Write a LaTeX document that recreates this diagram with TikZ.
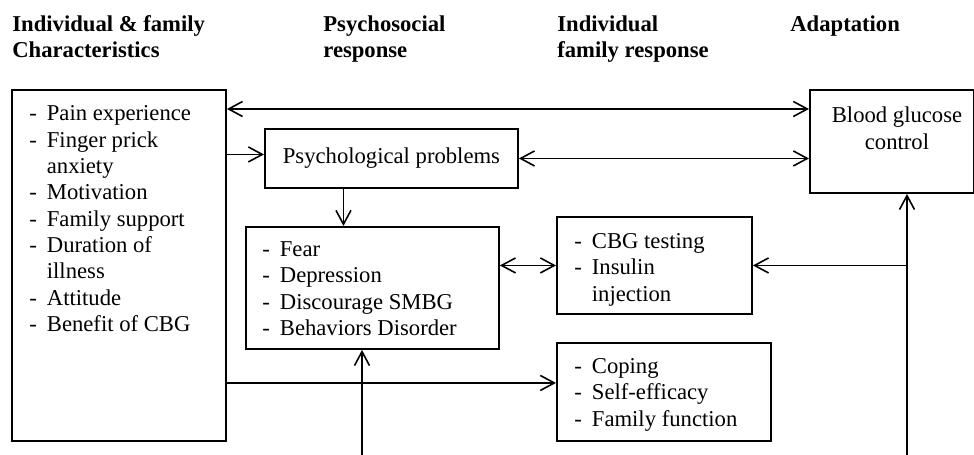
\documentclass[tikz,border=0pt]{standalone}
\usepackage{fontspec}
\setmainfont{Liberation Serif}
\usetikzlibrary{arrows.meta}
\newcommand{\dashlist}[1]{{\renewcommand{\arraystretch}{1}\begin{tabular}{@{}l@{\hspace{0.2cm}}l@{}}#1\end{tabular}}}

\begin{document}
\begin{tikzpicture}[x=0.02cm, y=-0.02cm, font=\fontsize{12.9}{15}\selectfont,
  box/.style={draw, line width=1.1pt, anchor=north west, inner sep=0pt},
  txt/.style={anchor=north west, inner sep=0pt},
  head/.style={anchor=north west, inner sep=0pt, align=left, font=\fontsize{12.9}{15}\selectfont\bfseries},
  arr/.style={line width=0.9pt, -{Straight Barb[length=0.28cm, width=0.3cm]}},
  darr/.style={line width=0.9pt, {Straight Barb[length=0.28cm, width=0.3cm]}-{Straight Barb[length=0.28cm, width=0.3cm]}}]
        \useasboundingbox (0,0) rectangle (974,455);

        % Column headings
        \node[head] (h1) at (12,15) {Individual \& family\\Characteristics};
        \node[head] (h2) at (323,15) {Psychosocial\\response};
        \node[head] (h3) at (557,15) {Individual\\family response};
        \node[head] (h4) at (790,15) {Adaptation};

        % Boxes
        \node[box, minimum width=4.28cm, minimum height=7.02cm] (L) at (11,89) {};
        \node[box, minimum width=5.06cm, minimum height=1.18cm] (P) at (264,128) {Psychological problems};
        \node[box, minimum width=3.28cm, minimum height=2.06cm] (B) at (809,89) {};
        \node[box, minimum width=5.06cm, minimum height=2.44cm] (F) at (245,226) {};
        \node[box, minimum width=3.9cm, minimum height=1.94cm] (C) at (556,216) {};
        \node[box, minimum width=4.28cm, minimum height=1.96cm] (K) at (556,342) {};

        % Box texts
        \node[txt] (Ltxt) at (29,102) {\dashlist{- & Pain experience\\ - & Finger prick\\ & anxiety\\ - & Motivation\\ - & Family support\\ - & Duration of\\ & illness\\ - & Attitude\\ - & Benefit of CBG}};
        \node[anchor=north, inner sep=0pt] (Btxt) at (897,104) {\begin{tabular}{@{}c@{}}Blood glucose\\control\end{tabular}};
        \node[txt] (Ftxt) at (262,237.5) {\dashlist{- & Fear\\ - & Depression\\ - & Discourage SMBG\\ - & Behaviors Disorder}};
        \node[txt] (Ctxt) at (574,229.5) {\dashlist{- & CBG testing\\ - & Insulin\\ & injection}};
        \node[txt] (Ktxt) at (574,354.5) {\dashlist{- & Coping\\ - & Self-efficacy\\ - & Family function}};

        % Arrows between boxes
        \draw[darr] ([yshift=-0.4cm]L.north east) -- ([yshift=-0.4cm]B.north west);
        \coordinate (pin) at ([yshift=0.08cm]P.west);
        \draw[arr] (pin -| L.east) -- (pin);
        \draw[darr] (P.east) -- (P.east -| B.west);
        \coordinate (pdown) at ([xshift=-0.96cm]P.south);
        \draw[arr] (pdown) -- (pdown |- F.north);
        \draw[darr] (F.east |- C.west) -- (C.west);
        \coordinate (kin) at ([yshift=0.18cm]K.west);
        \draw[arr] (kin -| L.east) -- (kin);

        % Feedback lines from below
        \coordinate (rfoot) at (907,455);
        \coordinate (mfoot) at (362,455);
        \draw[arr] (rfoot) -- (rfoot |- B.south);
        \draw[arr] (rfoot |- C.east) -- (C.east);
        \draw[arr] (mfoot) -- (mfoot |- F.south);

    \end{tikzpicture}
\end{document}
